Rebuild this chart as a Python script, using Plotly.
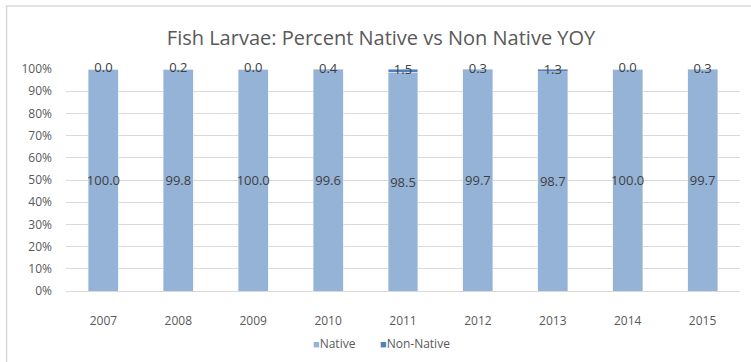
import plotly.graph_objects as go

years = ["2007", "2008", "2009", "2010", "2011", "2012", "2013", "2014", "2015"]
native = [100.0, 99.8, 100.0, 99.6, 98.5, 99.7, 98.7, 100.0, 99.7]
non_native = [0.0, 0.2, 0.0, 0.4, 1.5, 0.3, 1.3, 0.0, 0.3]
series_names = ["Native", "Non-Native"]

native_color = "#95b3d7"
non_native_color = "#4f81bd"
text_color = "#404040"
axis_text = "#595959"
grid_color = "#d9d9d9"

W, H = 751, 362
L, R, T, B = 65.5, 10.5, 69, 71
pw, ph = W - L - R, H - T - B


def px_x(x):
    return (x - L) / pw


def px_y(y):
    return 1 - (y - T) / ph


label_font = dict(size=13, color=text_color, family="Open Sans")

fig = go.Figure()
fig.add_trace(go.Bar(
    x=years, y=native, name=series_names[0], marker_color=native_color,
    text=[f"{v:.1f}" for v in native], textposition="inside",
    insidetextanchor="middle", textangle=0, textfont=label_font,
    constraintext="none",
))
fig.add_trace(go.Bar(
    x=years, y=non_native, name=series_names[1], marker_color=non_native_color,
    textposition="none",
))
# labels for the thin non-native segments, centred on each segment
fig.add_trace(go.Scatter(
    x=years, y=[n + m / 2 for n, m in zip(native, non_native)],
    mode="text", text=[f"{v:.1f}" for v in non_native], textfont=label_font,
    showlegend=False, hoverinfo="skip", cliponaxis=False,
))

# compact legend row below the axis
legend_row = [
    (311, series_names[0], native_color),
    (378, series_names[1], non_native_color),
]
annotations = [
    dict(xref="paper", yref="paper", x=px_x(x), y=px_y(343),
         xanchor="left", yanchor="middle", showarrow=False,
         text=f"<span style='color:{c}; font-size:11px'>■</span>{name}",
         font=dict(size=12, color=axis_text, family="Open Sans"))
    for x, name, c in legend_row
]

fig.update_layout(
    width=W, height=H, barmode="stack", bargap=0.6, showlegend=False,
    margin=dict(l=L, r=R, t=T, b=B, pad=0),
    paper_bgcolor="white", plot_bgcolor="white",
    font=dict(family="Open Sans", color=axis_text),
    title=dict(text="Fish Larvae: Percent Native vs Non Native YOY",
               x=px_x(381), xref="paper", xanchor="center",
               y=1 - 38 / H, yanchor="middle",
               font=dict(size=20, color=axis_text, family="Open Sans")),
    xaxis=dict(showgrid=False, showline=True, linecolor=grid_color, linewidth=1,
               ticks="", ticklabelstandoff=19,
               tickfont=dict(size=12, color=axis_text)),
    yaxis=dict(range=[0, 100], dtick=10, ticksuffix="%", showgrid=True,
               gridcolor=grid_color, gridwidth=1, zeroline=False,
               ticks="", ticklabelstandoff=13,
               tickfont=dict(size=12, color=axis_text)),
    annotations=annotations,
    shapes=[dict(type="rect", xref="paper", yref="paper",
                 x0=px_x(6), x1=px_x(770), y0=px_y(6), y1=px_y(380),
                 line=dict(color=grid_color, width=1.5), layer="below")],
)

fig.write_html("out.html")
